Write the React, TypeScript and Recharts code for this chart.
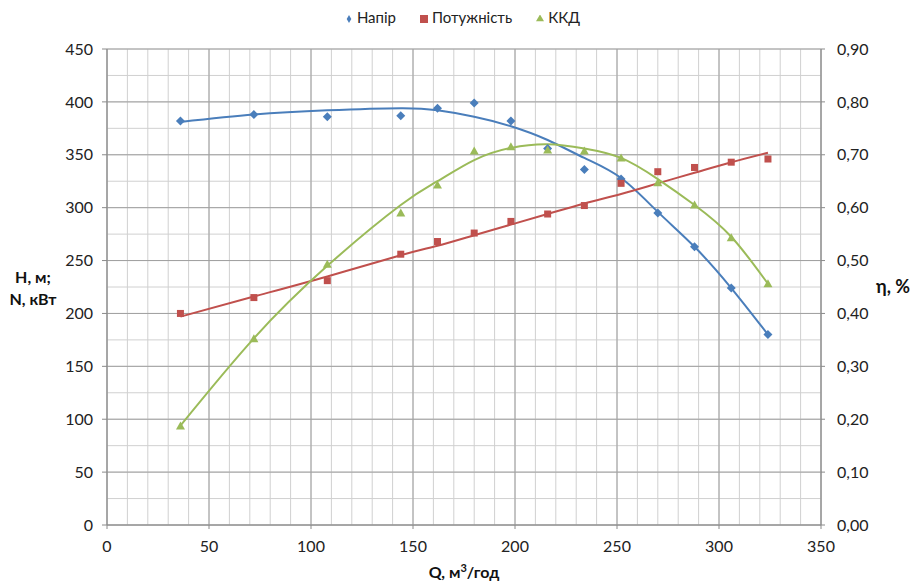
import {
  ComposedChart, Line, Scatter, XAxis, YAxis, CartesianGrid, Legend,
} from 'recharts';

// flow, m3/h
const qValues = [36, 72, 108, 144, 162, 180, 198, 216, 234, 252, 270, 288, 306, 324];
// measured points
const headValues = [382, 388, 386, 387, 394, 399, 382, 356, 336, 327, 295, 263, 224, 180];
const powerValues = [200, 215, 231, 256, 268, 276, 287, 294, 302, 323, 334, 338, 343, 346];
const effValues = [0.187, 0.352, 0.493, 0.59, 0.643, 0.707, 0.715, 0.709, 0.707, 0.694, 0.647, 0.605, 0.543, 0.456];
// trend lines
const headFit = [381, 388, 392, 394, 392, 386, 377, 364, 347, 328, 296, 263, 224, 180];
const powerFit = [197, 216, 235, 255, 264, 274, 284, 294, 304, 313, 323, 333, 343, 352];
const effFit = [0.188, 0.353, 0.49, 0.605, 0.65, 0.69, 0.713, 0.72, 0.712, 0.694, 0.654, 0.605, 0.545, 0.456];

const seriesOrder = ['Напір', 'Потужність', 'ККД'];
const xTicks = [0, 50, 100, 150, 200, 250, 300, 350];
const xMinor = [0, 10, 20, 30, 40, 50, 60, 70, 80, 90, 100, 110, 120, 130, 140, 150, 160, 170, 180, 190, 200, 210, 220, 230, 240, 250, 260, 270, 280, 290, 300, 310, 320, 330, 340, 350];
const leftTicks = [0, 50, 100, 150, 200, 250, 300, 350, 400, 450];
const leftMinor = [0, 25, 50, 75, 100, 125, 150, 175, 200, 225, 250, 275, 300, 325, 350, 375, 400, 425, 450];
const rightTicks = [0, 0.1, 0.2, 0.3, 0.4, 0.5, 0.6, 0.7, 0.8, 0.9];

const BLUE = '#4a7ebb';
const RED = '#c0504d';
const GREEN = '#9bbb59';
const FONT = 'Lato, "Open Sans", sans-serif';

const rows = qValues.map((q, i) => ({
  q,
  head: headValues[i],
  power: powerValues[i],
  eff: effValues[i],
  headFit: headFit[i],
  powerFit: powerFit[i],
  effFit: effFit[i],
}));

const tick = { fontSize: 16, fill: '#222', fontFamily: FONT };

// map grid values through the axis scale, if the grid hands it over
function gridCoords(axis: any, values: number[]) {
  const s = axis && axis.scale;
  if (!s) return [];
  if (typeof s === 'function') return values.map((v) => s(v));
  if (typeof s.map === 'function') return values.map((v) => s.map(v));
  return [];
}

const Diamond = ({ cx, cy }: any) => (
  <path d={`M${cx},${cy - 4.5}L${cx + 4.5},${cy}L${cx},${cy + 4.5}L${cx - 4.5},${cy}Z`} fill={BLUE} />
);
const Square = ({ cx, cy }: any) => <rect x={cx - 3.5} y={cy - 3.5} width={7} height={7} fill={RED} />;
const Triangle = ({ cx, cy }: any) => (
  <path d={`M${cx},${cy - 4.5}L${cx + 4.5},${cy + 3.5}L${cx - 4.5},${cy + 3.5}Z`} fill={GREEN} />
);

function LeftLabel({ viewBox }: any) {
  const cx = viewBox.x + 33;
  const cy = viewBox.y + viewBox.height / 2;
  return (
    <text x={cx} textAnchor="middle" fontSize={16} fontWeight="bold" fontFamily={FONT} fill="#111">
      <tspan x={cx} y={cy - 4}>H, м;</tspan>
      <tspan x={cx} y={cy + 18}>N, кВт</tspan>
    </text>
  );
}

function RightLabel({ viewBox }: any) {
  const cx = viewBox.x + viewBox.width - 22;
  const cy = viewBox.y + viewBox.height / 2;
  return (
    <text x={cx} y={cy + 6} textAnchor="middle" fontSize={18} fontWeight="bold" fontFamily={FONT} fill="#111">
      η, %
    </text>
  );
}

function BottomLabel({ viewBox }: any) {
  const cx = viewBox.x + viewBox.width / 2;
  const cy = viewBox.y + 53;
  return (
    <text x={cx} y={cy} textAnchor="middle" fontSize={16} fontWeight="bold" fontFamily={FONT} fill="#111">
      Q, м<tspan dy={-6} fontSize={11}>3</tspan><tspan dy={6}>/год</tspan>
    </text>
  );
}

export default function App() {
  return (
    <div style={{ position: 'absolute', left: 0, top: 0, background: '#fff' }}>
      <ComposedChart width={915} height={585} data={rows} margin={{ top: 8, right: 0, bottom: 0, left: 0 }}>
        <CartesianGrid
          yAxisId="left" stroke="#d0d0d0"
          horizontalCoordinatesGenerator={({ yAxis }: any) => gridCoords(yAxis, leftMinor)}
          verticalCoordinatesGenerator={({ xAxis }: any) => gridCoords(xAxis, xMinor)}
        />
        <CartesianGrid yAxisId="left" stroke="#a0a0a0" />
        <XAxis
          dataKey="q" type="number" domain={[0, 350]} ticks={xTicks} height={60}
          tick={tick} stroke="#8a8a8a" tickSize={4} tickMargin={12} label={<BottomLabel />}
        />
        <YAxis
          yAxisId="left" domain={[0, 450]} ticks={leftTicks} width={107}
          tick={tick} stroke="#8a8a8a" tickSize={5} tickMargin={9} label={<LeftLabel />}
        />
        <YAxis
          yAxisId="right" orientation="right" domain={[0, 0.9]} ticks={rightTicks} width={94}
          tick={tick} stroke="#8a8a8a" tickSize={4} tickMargin={12}
          tickFormatter={(v: number) => v.toFixed(2).replace('.', ',')}
          label={<RightLabel />}
        />
        <Legend
          verticalAlign="top" align="center" iconSize={8}
          itemSorter={(item: any) => seriesOrder.indexOf(item.value)}
          formatter={(value: string) => (
            <span style={{ color: '#222', paddingRight: value === 'ККД' ? 0 : 14 }}>{value}</span>
          )}
          wrapperStyle={{ fontFamily: FONT, fontSize: 15, paddingBottom: 23, paddingLeft: 10 }}
        />
        <Scatter yAxisId="left" name="Напір" dataKey="head" fill={BLUE} shape={<Diamond />} legendType="diamond" isAnimationActive={false} />
        <Scatter yAxisId="left" name="Потужність" dataKey="power" fill={RED} shape={<Square />} legendType="square" isAnimationActive={false} />
        <Scatter yAxisId="right" name="ККД" dataKey="eff" fill={GREEN} shape={<Triangle />} legendType="triangle" isAnimationActive={false} />
        <Line yAxisId="left" dataKey="headFit" type="natural" stroke={BLUE} strokeWidth={2} dot={false} legendType="none" isAnimationActive={false} />
        <Line yAxisId="left" dataKey="powerFit" type="natural" stroke={RED} strokeWidth={2} dot={false} legendType="none" isAnimationActive={false} />
        <Line yAxisId="right" dataKey="effFit" type="natural" stroke={GREEN} strokeWidth={2} dot={false} legendType="none" isAnimationActive={false} />
      </ComposedChart>
    </div>
  );
}
